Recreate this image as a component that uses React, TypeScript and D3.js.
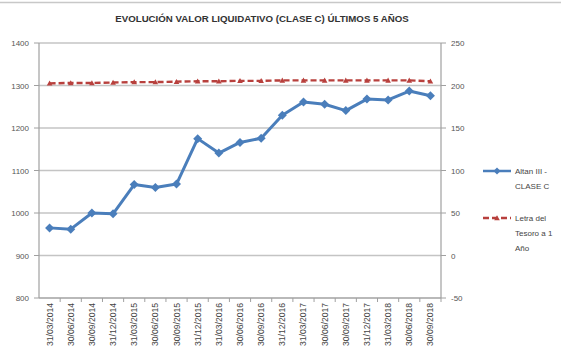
import React from "react";
import * as d3 from "d3";

const categories = [
  "31/03/2014", "30/06/2014", "30/09/2014", "31/12/2014",
  "31/03/2015", "30/06/2015", "30/09/2015", "31/12/2015",
  "31/03/2016", "30/06/2016", "30/09/2016", "31/12/2016",
  "31/03/2017", "30/06/2017", "30/09/2017", "31/12/2017",
  "31/03/2018", "30/06/2018", "30/09/2018",
];
const altanValues = [965, 962, 1000, 998, 1067, 1060, 1068, 1175, 1141, 1166, 1176, 1230, 1261, 1256, 1241, 1268, 1266, 1287, 1276];
const letraValues = [202.5, 203, 203, 203.5, 204, 204, 204.5, 205, 205, 205.5, 205.5, 206, 206, 206, 206, 206, 206, 206, 205];
const leftTicks = [800, 900, 1000, 1100, 1200, 1300, 1400];
const rightTicks = [-50, 0, 50, 100, 150, 200, 250];
const title = "EVOLUCIÓN VALOR LIQUIDATIVO (CLASE C) ÚLTIMOS 5 AÑOS";

const W = 561, H = 356;
const L = 39, R = 441, T = 43, B = 298;
const FONT = "'Liberation Sans', Arial, sans-serif";
const BLUE = "#4A7EBB";
const RED = "#B8403D";

export default function App() {
  const x = d3.scaleBand<string>().domain(categories).range([L, R]);
  const yL = d3.scaleLinear().domain([800, 1400]).range([B, T]);
  const yR = d3.scaleLinear().domain([-50, 250]).range([B, T]);
  const cx = (c: string) => (x(c) as number) + x.bandwidth() / 2;

  const lineAltan = d3.line<number>().x((_, i) => cx(categories[i])).y((v) => yL(v))(altanValues) as string;
  const lineLetra = d3.line<number>().x((_, i) => cx(categories[i])).y((v) => yR(v))(letraValues) as string;

  const diamond = (px: number, py: number, s: number) =>
    `M${px},${py - s}L${px + s},${py}L${px},${py + s}L${px - s},${py}Z`;
  const tri = (px: number, py: number, s: number) =>
    `M${px},${py - s}L${px + s},${py + s * 0.8}L${px - s},${py + s * 0.8}Z`;

  return (
    <svg width={W} height={H} style={{ position: "absolute", left: 0, top: 0, background: "#fff" }}>
      <line x1={0} x2={W} y1={2.5} y2={2.5} stroke="#c8c8c8" strokeWidth={1.5} />
      <text x={262} y={22} textAnchor="middle" fontFamily={FONT} fontWeight="bold" fontSize={9.7} fill="#333">{title}</text>

      {leftTicks.map((t) => (
        <g key={t}>
          <line x1={L} x2={R} y1={yL(t)} y2={yL(t)} stroke="#c4c4c4" strokeWidth={1.5} />
          <line x1={L - 5} x2={L} y1={yL(t)} y2={yL(t)} stroke="#a0a0a0" />
          <text x={L - 10} y={yL(t) + 3} textAnchor="end" fontFamily={FONT} fontSize={8} fill="#555">{t}</text>
        </g>
      ))}
      {rightTicks.map((t) => (
        <g key={t}>
          <line x1={R} x2={R + 5} y1={yR(t)} y2={yR(t)} stroke="#a0a0a0" />
          <text x={R + 10} y={yR(t) + 3} textAnchor="start" fontFamily={FONT} fontSize={8} fill="#555">{t}</text>
        </g>
      ))}
      <line x1={L} x2={L} y1={T} y2={B} stroke="#a0a0a0" strokeWidth={1.2} />
      <line x1={R} x2={R} y1={T} y2={B} stroke="#a0a0a0" strokeWidth={1.2} />
      <line x1={L} x2={R} y1={B} y2={B} stroke="#a0a0a0" strokeWidth={1.2} />

      {categories.map((c, i) => (
        <line key={"t" + i} x1={(x(c) as number) + x.bandwidth()} x2={(x(c) as number) + x.bandwidth()} y1={B} y2={B + 4} stroke="#a0a0a0" />
      ))}
      {categories.map((c) => (
        <text key={c} transform={`translate(${cx(c) + 3},${B + 5}) rotate(-90)`} textAnchor="end" fontFamily={FONT} fontSize={8.6} fill="#444">{c}</text>
      ))}

      <path d={lineLetra} fill="none" stroke={RED} strokeWidth={2.4} strokeDasharray="6,3" />
      {letraValues.map((v, i) => (
        <path key={"r" + i} d={tri(cx(categories[i]), yR(v), 2.8)} fill={RED} />
      ))}

      <path d={lineAltan} fill="none" stroke={BLUE} strokeWidth={3} strokeLinejoin="round" />
      {altanValues.map((v, i) => (
        <path key={"b" + i} d={diamond(cx(categories[i]), yL(v), 4.5)} fill={BLUE} />
      ))}

      <line x1={483} x2={511} y1={171} y2={171} stroke={BLUE} strokeWidth={2.5} />
      <path d={diamond(497, 171, 3.5)} fill={BLUE} />
      <text x={515} y={174} fontFamily={FONT} fontSize={8} fill="#444">Altan III -</text>
      <text x={515} y={189} fontFamily={FONT} fontSize={8} fill="#444">CLASE C</text>

      <line x1={483} x2={511} y1={218} y2={218} stroke={RED} strokeWidth={2.4} strokeDasharray="6,3" />
      <path d={tri(497, 218, 2.8)} fill={RED} />
      <text x={515} y={221} fontFamily={FONT} fontSize={8} fill="#444">Letra del</text>
      <text x={515} y={236} fontFamily={FONT} fontSize={8} fill="#444">Tesoro a 1</text>
      <text x={515} y={251} fontFamily={FONT} fontSize={8} fill="#444">Año</text>
    </svg>
  );
}
